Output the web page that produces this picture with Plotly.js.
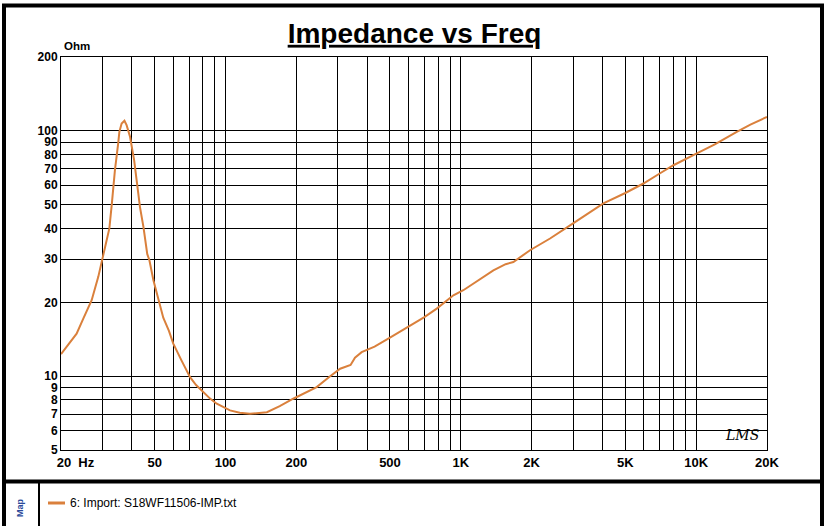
<!DOCTYPE html>
<html>
<head>
<meta charset="utf-8">
<script src="https://cdn.plot.ly/plotly-3.0.1.min.js"></script>
<style>
  html, body { margin: 0; padding: 0; background: #ffffff; }
  #chart { width: 829px; height: 526px; }
</style>
</head>
<body>
<div id="chart"></div>
<script>
// Frequency (Hz)
const freqHz = [20, 21.5, 23.3, 24.9, 26.6, 27.0, 28.8, 30.1, 31.3, 32.1, 32.9, 33.4, 33.9, 35.0, 35.4, 36.2, 37.2, 38.0, 39.3, 40.9, 41.3, 42.6, 43.3, 44.8, 46.5, 47.5, 49.4, 51.0, 52.7, 54.4, 57.5, 60, 65, 70.7, 75, 80.5, 86, 91.8, 98, 104.5, 115, 127, 150, 170, 194, 220, 244, 275, 307, 340, 355, 379, 430, 500, 608, 700, 790, 930, 1025, 1200, 1375, 1550, 1672, 1968, 2394, 2912, 3400, 4034, 5000, 5968, 7000, 8005, 10067, 12000, 14875, 17000, 20000];
// Impedance (Ohm)
const impedanceOhm = [12.3, 13.5, 14.9, 17.2, 20.0, 20.4, 25.4, 30.6, 35.8, 40, 50.6, 61, 69.2, 88.9, 99.1, 107.2, 110, 105.5, 94.6, 76, 71.3, 55.6, 49, 40.6, 31.5, 29.7, 24.6, 21.7, 19.1, 17.3, 15.3, 13.57, 11.6, 9.91, 9.2, 8.61, 8.1, 7.72, 7.45, 7.25, 7.1, 7.02, 7.13, 7.55, 8.09, 8.6, 9.02, 9.9, 10.72, 11.1, 11.9, 12.53, 13.2, 14.35, 16.1, 17.4, 18.85, 21.37, 22.4, 24.8, 27.0, 28.6, 29.2, 32.6, 36.4, 41.2, 45.5, 50.6, 55.8, 61, 67, 72.4, 80.9, 88, 99.1, 106, 114];

// Axis ticks / grid
const xTickVals = [20, 30, 40, 50, 60, 70, 80, 90, 100, 200, 300, 400, 500, 600, 700, 800, 900, 1000, 2000, 3000, 4000, 5000, 6000, 7000, 8000, 9000, 10000, 20000];
const xTickText = ['&nbsp;&nbsp;&nbsp;&nbsp;&nbsp;&nbsp;&nbsp;&nbsp;20&nbsp; Hz', '', '', '50', '', '', '', '', '100', '200', '', '', '500', '', '', '', '', '1K', '2K', '', '', '5K', '', '', '', '', '10K', '20K'];
const yTickVals = [5, 6, 7, 8, 9, 10, 20, 30, 40, 50, 60, 70, 80, 90, 100, 200];
const yTickText = ['5', '6', '7', '8', '9', '10', '20', '30', '40', '50', '60', '70', '80', '90', '100', '200'];

const seriesName = '6: Import: S18WF11506-IMP.txt';
const titleText = 'Impedance vs Freq';
const traceColor = 'rgb(218,128,60)';

const FONT = 'Arial, "Liberation Sans", sans-serif';

const trace = {
  x: freqHz,
  y: impedanceOhm,
  type: 'scatter',
  mode: 'lines',
  name: seriesName,
  line: { color: traceColor, width: 2 },
  showlegend: false
};

// helpers to convert pixel positions of decorations into paper coordinates
const L = 61, R = 62, T = 57, B = 76;
const W = 829 - L - R, H = 526 - T - B;
const px = v => (v - L) / W;
const py = v => (526 - B - v) / H;

const layout = {
  width: 829,
  height: 526,
  margin: { l: L, r: R, t: T, b: B, pad: 0 },
  paper_bgcolor: '#ffffff',
  plot_bgcolor: '#ffffff',
  font: { family: FONT, color: '#000000' },
  title: {
    text: '<u>' + titleText + '</u>',
    font: { family: FONT, size: 28, color: '#000000', weight: 'bold' },
    xref: 'container', x: 0.5, xanchor: 'center',
    yref: 'container', y: 1 - 33 / 526, yanchor: 'middle'
  },
  xaxis: {
    type: 'log',
    range: [Math.log10(20), Math.log10(20000)],
    tickmode: 'array',
    tickvals: xTickVals,
    ticktext: xTickText,
    ticks: '',
    showgrid: true, gridcolor: '#000000', gridwidth: 1,
    showline: true, linecolor: '#000000', linewidth: 1, mirror: true,
    zeroline: false,
    tickfont: { family: FONT, size: 13, color: '#000000', weight: 'bold' },
    fixedrange: true
  },
  yaxis: {
    type: 'log',
    range: [Math.log10(5), Math.log10(200)],
    tickmode: 'array',
    tickvals: yTickVals,
    ticktext: yTickText,
    ticks: '',
    showgrid: true, gridcolor: '#000000', gridwidth: 1,
    showline: true, linecolor: '#000000', linewidth: 1, mirror: true,
    zeroline: false,
    tickfont: { family: FONT, size: 12, color: '#000000', weight: 'bold' },
    fixedrange: true
  },
  showlegend: false,
  annotations: [
    { text: '<b>Ohm</b>', xref: 'paper', yref: 'paper', x: px(62), y: py(46),
      xanchor: 'left', yanchor: 'middle', showarrow: false,
      font: { family: FONT, size: 11.5, color: '#000000' } },
    { text: '<i>LMS</i>', xref: 'paper', yref: 'paper', x: px(742), y: py(435),
      xanchor: 'center', yanchor: 'middle', showarrow: false,
      font: { family: '"DejaVu Serif", serif', size: 14, color: '#000000' } },
    { text: '<b>Map</b>', xref: 'paper', yref: 'paper', x: px(20), y: py(508),
      xanchor: 'center', yanchor: 'middle', showarrow: false, textangle: -90,
      font: { family: FONT, size: 9, color: '#2b4a9a' } },
    { text: seriesName, xref: 'paper', yref: 'paper', x: px(68), y: py(503),
      xanchor: 'left', yanchor: 'middle', showarrow: false,
      font: { family: FONT, size: 12, color: '#000000' } }
  ],
  shapes: [
    { type: 'rect', xref: 'paper', yref: 'paper',
      x0: px(4), x1: px(822), y0: py(560), y1: py(5.5),
      line: { color: '#000000', width: 4 }, fillcolor: 'rgba(0,0,0,0)', layer: 'above' },
    { type: 'line', xref: 'paper', yref: 'paper',
      x0: px(4), x1: px(822), y0: py(481.5), y1: py(481.5),
      line: { color: '#000000', width: 4 }, layer: 'above' },
    { type: 'line', xref: 'paper', yref: 'paper',
      x0: px(39), x1: px(39), y0: py(483), y1: py(560),
      line: { color: '#000000', width: 2 }, layer: 'above' },
    { type: 'line', xref: 'paper', yref: 'paper',
      x0: px(48), x1: px(65), y0: py(503), y1: py(503),
      line: { color: traceColor, width: 3 }, layer: 'above' }
  ]
};

Plotly.newPlot('chart', [trace], layout, { displayModeBar: false, staticPlot: true });
</script>
</body>
</html>
